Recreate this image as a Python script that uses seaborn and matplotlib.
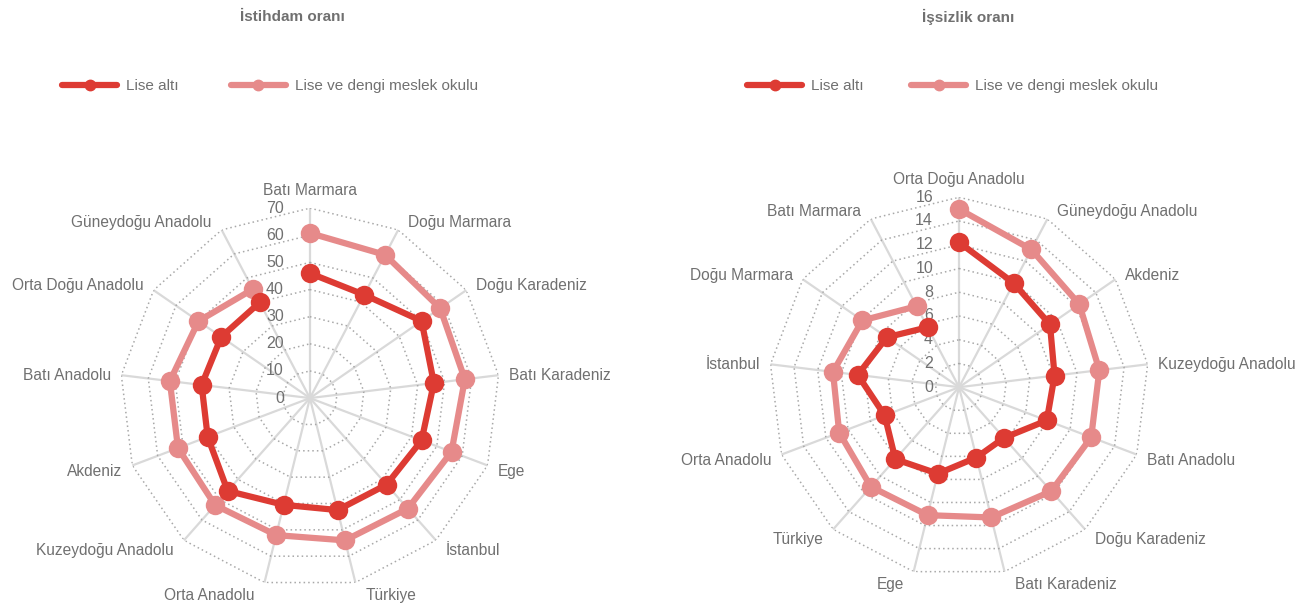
import numpy as np
import pandas as pd
import matplotlib
matplotlib.use('Agg')
import matplotlib.pyplot as plt
from matplotlib.lines import Line2D
import seaborn as sns

# İstihdam oranı (sol grafik)
ist_bolgeler = ['Batı Marmara', 'Doğu Marmara', 'Doğu Karadeniz', 'Batı Karadeniz', 'Ege',
                'İstanbul', 'Türkiye', 'Orta Anadolu', 'Kuzeydoğu Anadolu', 'Akdeniz',
                'Batı Anadolu', 'Orta Doğu Anadolu', 'Güneydoğu Anadolu']
ist_lise_alti = [46.0, 43.0, 50.0, 46.0, 44.0, 42.6, 42.5, 40.5, 45.7, 40.3, 40.2, 39.7, 39.8]
ist_lise_dengi = [60.8, 59.6, 58.3, 57.5, 55.8, 54.4, 54.0, 52.0, 52.7, 52.0, 52.0, 49.9, 45.3]
ist_ticks = [0, 10, 20, 30, 40, 50, 60, 70]

# İşsizlik oranı (sağ grafik)
iss_bolgeler = ['Orta Doğu Anadolu', 'Güneydoğu Anadolu', 'Akdeniz', 'Kuzeydoğu Anadolu',
                'Batı Anadolu', 'Doğu Karadeniz', 'Batı Karadeniz', 'Ege', 'Türkiye',
                'Orta Anadolu', 'İstanbul', 'Doğu Marmara', 'Batı Marmara']
iss_lise_alti = [12.2, 9.9, 9.3, 8.1, 7.9, 5.7, 6.1, 7.5, 8.1, 6.7, 8.6, 7.4, 5.7]
iss_lise_dengi = [15.0, 13.1, 12.3, 11.9, 11.9, 11.7, 11.3, 11.1, 11.2, 10.8, 10.7, 9.9, 7.7]
iss_ticks = [0, 2, 4, 6, 8, 10, 12, 14, 16]

seri_adlari = ['Lise altı', 'Lise ve dengi meslek okulu']
renkler = {'Lise altı': '#dd3b33', 'Lise ve dengi meslek okulu': '#e68a8a'}
gri = '#707070'

sns.set_theme(style='white')
plt.rcParams['font.family'] = ['Liberation Sans', 'DejaVu Sans']

fig = plt.figure(figsize=(13.08, 6.05), dpi=100)


def radar(rect, bolgeler, alti, dengi, ticks):
    ax = fig.add_axes(rect, projection='polar')
    n = len(bolgeler)
    theta = np.linspace(0, 2 * np.pi, n, endpoint=False)
    ax.set_theta_zero_location('N')
    ax.set_theta_direction(-1)

    rmax = ticks[-1]
    kapali = np.append(theta, theta[0])
    # çokgen ızgara
    for t in ticks[1:]:
        ax.plot(kapali, [t] * (n + 1), color='#a8a8a8', lw=1.1, ls=(0, (1, 2)), zorder=1)

    # veri tablosu (kapalı döngü için ilk nokta sona eklenir)
    rows = []
    for ad, vals in [(seri_adlari[1], dengi), (seri_adlari[0], alti)]:
        for i in range(n + 1):
            rows.append({'theta': kapali[i], 'deger': vals[i % n], 'seri': ad})
    df = pd.DataFrame(rows)
    sns.lineplot(data=df, x='theta', y='deger', hue='seri', hue_order=[seri_adlari[1], seri_adlari[0]],
                 palette=renkler, sort=False, marker='o', markersize=14, markeredgewidth=0,
                 linewidth=4.5, legend=False, ax=ax, zorder=3)

    ax.set_ylim(0, rmax)
    ax.set_xticks(theta)
    ax.set_xticklabels([])
    ax.xaxis.grid(True, color='#d9d9d9', lw=1.6, ls='-')
    ax.yaxis.grid(False)
    ax.set_yticks([])
    ax.spines['polar'].set_visible(False)
    ax.set_xlabel('')
    ax.set_ylabel('')

    # bölge etiketleri
    for th, ad in zip(theta, bolgeler):
        s, c = np.sin(th), np.cos(th)
        if abs(s) < 0.05:
            ha, va, dx, dy = 'center', 'bottom', 0, 10
        else:
            ha = 'left' if s > 0 else 'right'
            va, dx, dy = 'center', 10 * np.sign(s), 11 * c - 2
        ax.annotate(ad, xy=(th, rmax), xytext=(dx, dy), textcoords='offset pixels',
                    ha=ha, va=va, color=gri, fontsize=11.2, annotation_clip=False)

    for t in ticks:
        ax.annotate(str(t), xy=(0, t), xytext=(-26, 0), textcoords='offset pixels',
                    ha='right', va='center', color=gri, fontsize=11.5, zorder=2)
    return ax


radar([0.0917, 0.028, 0.2905, 0.628], ist_bolgeler, ist_lise_alti, ist_lise_dengi, ist_ticks)
radar([0.588, 0.046, 0.2905, 0.628], iss_bolgeler, iss_lise_alti, iss_lise_dengi, iss_ticks)

fig.text(292 / 1308, 1 - 17 / 605, 'İstihdam oranı', ha='center', va='center',
         fontsize=11, fontweight='bold', color=gri)
fig.text(968 / 1308, 1 - 17 / 605, 'İşsizlik oranı', ha='center', va='center',
         fontsize=11, fontweight='bold', color=gri)

handles = [Line2D([], [], color=renkler[s], lw=4.5, marker='o', markersize=7.5, solid_capstyle='round')
           for s in seri_adlari]
for x0, cs in [(62 / 1308, 3.4), (747 / 1308, 3.1)]:
    fig.legend(handles, seri_adlari, loc='center left', bbox_to_anchor=(x0, 1 - 86 / 605),
               ncol=2, frameon=False, fontsize=11, handlelength=3.6, handletextpad=0.6,
               columnspacing=cs, labelcolor=gri, borderaxespad=0, borderpad=0)

plt.savefig('out.png', dpi=100)
